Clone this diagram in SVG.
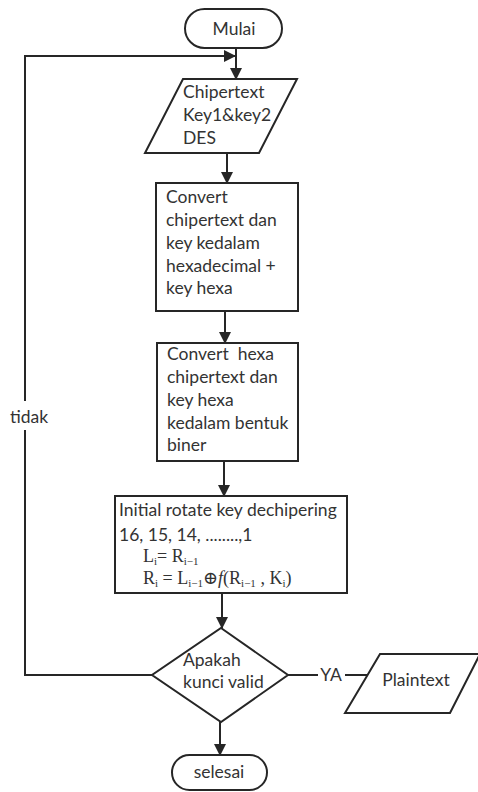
<svg xmlns="http://www.w3.org/2000/svg" width="478" height="792" viewBox="0 0 478 792">
  <style>
    .shape { fill: #ffffff; stroke: #262626; stroke-width: 2; }
    .line { fill: none; stroke: #262626; stroke-width: 2; }
    .t { font-family: Lato, "Open Sans", "Liberation Sans", sans-serif; font-size: 17.5px; fill: #333333; }
    .m { font-family: "Liberation Serif", "DejaVu Serif", serif; font-size: 18px; fill: #333333; }
    .sub { font-size: 11px; }
  </style>
  <defs>
    <marker id="arrow" viewBox="0 0 12 12" refX="11" refY="6" markerWidth="12" markerHeight="12" markerUnits="userSpaceOnUse" orient="auto">
      <path d="M0,0 L12,6 L0,12 Z" fill="#262626"/>
    </marker>
  </defs>

  <!-- connectors -->
  <g id="connectors">
    <line class="line" x1="236" y1="48" x2="236" y2="79" marker-end="url(#arrow)"/>
    <line class="line" x1="227" y1="153" x2="227" y2="183" marker-end="url(#arrow)"/>
    <line class="line" x1="225" y1="311" x2="225" y2="343" marker-end="url(#arrow)"/>
    <line class="line" x1="224" y1="461" x2="224" y2="496" marker-end="url(#arrow)"/>
    <line class="line" x1="222" y1="593" x2="222" y2="628" marker-end="url(#arrow)"/>
    <line class="line" x1="220" y1="722" x2="220" y2="755" marker-end="url(#arrow)"/>
    <!-- "tidak" loop back to the input -->
    <polyline class="line" points="152,675 25,675 25,430"/>
    <polyline class="line" points="25,401 25,56 235,56" marker-end="url(#arrow)"/>
    <text class="t" x="29" y="423" text-anchor="middle" font-size="16">tidak</text>
    <!-- "YA" branch to output -->
    <line class="line" x1="288" y1="675" x2="318" y2="675"/>
    <line class="line" x1="345" y1="675" x2="367" y2="675"/>
    <text class="t" x="331" y="681" text-anchor="middle" font-size="16">YA</text>
  </g>

  <g id="start">
    <rect class="shape" x="185" y="9" width="97" height="39" rx="19.5"/>
    <text class="t" x="234" y="35" text-anchor="middle">Mulai</text>
  </g>

  <g id="input">
    <polygon class="shape" points="183,79 297,79 259,153 145,153"/>
    <text class="t" x="183" y="98">Chipertext</text>
    <text class="t" x="183" y="121">Key1&amp;key2</text>
    <text class="t" x="183" y="144">DES</text>
  </g>

  <g id="convert-hex">
    <rect class="shape" x="156" y="183" width="142" height="128"/>
    <text class="t" x="166" y="203">Convert</text>
    <text class="t" x="166" y="226">chipertext dan</text>
    <text class="t" x="166" y="249">key kedalam</text>
    <text class="t" x="166" y="272">hexadecimal +</text>
    <text class="t" x="166" y="294">key hexa</text>
  </g>

  <g id="convert-bin">
    <rect class="shape" x="157" y="343" width="141" height="118"/>
    <text class="t" x="167" y="360" xml:space="preserve">Convert  hexa</text>
    <text class="t" x="167" y="383">chipertext dan</text>
    <text class="t" x="167" y="406">key hexa</text>
    <text class="t" x="167" y="429">kedalam bentuk</text>
    <text class="t" x="167" y="451">biner</text>
  </g>

  <g id="rotate-key">
    <rect class="shape" x="115" y="496" width="232" height="97"/>
    <text class="t" x="119" y="516">Initial rotate key dechipering</text>
    <text class="t" x="119" y="541">16, 15, 14, ........,1</text>
    <text class="m" x="143" y="562">L<tspan class="sub" dy="3">i</tspan><tspan dy="-3">= R</tspan><tspan class="sub" dy="3">i−1</tspan></text>
    <text class="m" x="143" y="584">R<tspan class="sub" dy="3">i</tspan><tspan dy="-3"> = L</tspan><tspan class="sub" dy="3">i−1</tspan><tspan dy="-3">⊕</tspan><tspan font-style="italic">f</tspan>(R<tspan class="sub" dy="3">i−1</tspan><tspan dy="-3"> , K</tspan><tspan class="sub" dy="3">i</tspan><tspan dy="-3">)</tspan></text>
  </g>

  <g id="decision">
    <polygon class="shape" points="221,628 288,675 221,722 152,675"/>
    <text class="t" x="183" y="666">Apakah</text>
    <text class="t" x="183" y="688">kunci valid</text>
  </g>

  <g id="output">
    <polygon class="shape" points="380,654 480,654 450,713 345,713"/>
    <text class="t" x="416" y="686" text-anchor="middle">Plaintext</text>
  </g>

  <g id="end">
    <rect class="shape" x="172" y="755" width="95" height="35" rx="17.5"/>
    <text class="t" x="219" y="778" text-anchor="middle">selesai</text>
  </g>
</svg>
